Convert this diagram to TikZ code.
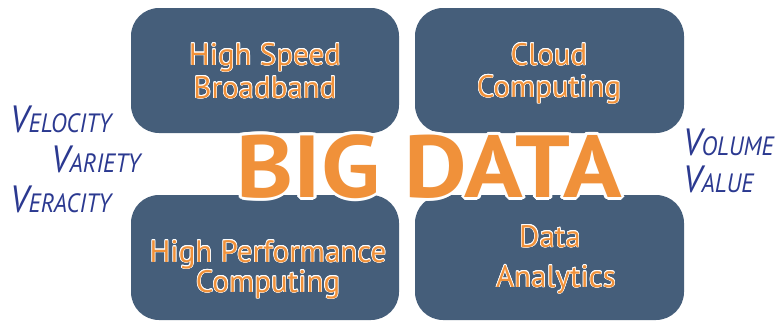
\documentclass[tikz,border=0pt]{standalone}
\usepackage{fontspec}
\usepackage{graphicx}
\setmainfont{PT Sans}
\definecolor{boxblue}{RGB}{69,94,122}
\definecolor{dataorange}{RGB}{240,145,58}
\definecolor{vblue}{RGB}{43,57,144}
\newcommand\halo[5]{%
  \foreach \a in {0,30,...,330} \node[#3,text=white] at ([shift={(\a:#4)}]#2) {#5};
  \node[#3] (#1) at (#2) {#5};}
\newcommand\vword[2]{\scalebox{0.9}[1]{{\fontsize{38}{40}\selectfont #1}{\fontsize{26.5}{30}\selectfont #2}}}
\begin{document}
\begin{tikzpicture}[x=1pt,y=-1pt,
  panel/.style={fill=boxblue,rounded corners=28pt},
  boxtext/.style={text=dataorange,anchor=base,inner sep=0pt,font=\fontsize{31}{33}\selectfont},
  bigtext/.style={text=dataorange,anchor=base,inner sep=0pt,font=\fontsize{88}{90}\selectfont\bfseries},
  vtext/.style={text=vblue,anchor=base west,inner sep=0pt,font=\itshape}]
\useasboundingbox (0,0) rectangle (780,322);
\fill[panel] (131,8) rectangle (399,133);
\fill[panel] (415,8) rectangle (684,133);
\fill[panel] (131,195) rectangle (399,320);
\fill[panel] (415,195) rectangle (684,320);
\halo{t1a}{265,65}{boxtext}{0.6}{High Speed}
\halo{t1b}{265,98}{boxtext}{0.6}{Broadband}
\halo{t2a}{549,65}{boxtext}{0.6}{Cloud}
\halo{t2b}{549,97}{boxtext}{0.6}{Computing}
\halo{t3a}{268,262}{boxtext}{0.6}{High Performance}
\halo{t3b}{268,292}{boxtext}{0.6}{Computing}
\halo{t4a}{550,247}{boxtext}{0.6}{Data}
\halo{t4b}{556,287}{boxtext}{0.6}{Analytics}
\halo{big}{429,197}{bigtext}{3}{\scalebox{1.1}[1]{BIG DATA}}
\node[vtext] (vel) at (10,132) {\vword{V}{ELOCITY}};
\node[vtext] (var) at (51,172) {\vword{V}{ARIETY}};
\node[vtext] (ver) at (10,212) {\vword{V}{ERACITY}};
\node[vtext] (vol) at (683,155) {\vword{V}{OLUME}};
\node[vtext] (val) at (683,192) {\vword{V}{ALUE}};
\end{tikzpicture}
\end{document}
